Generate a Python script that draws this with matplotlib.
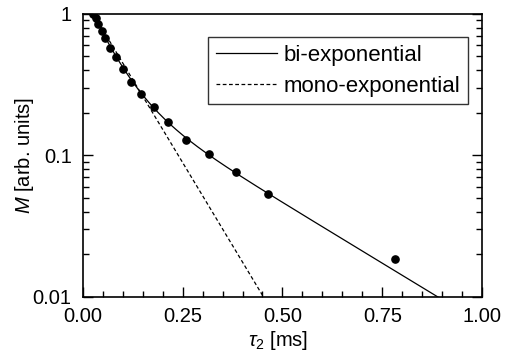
import numpy as np
import matplotlib
matplotlib.use("Agg")
import matplotlib.pyplot as plt
from matplotlib.ticker import FixedLocator, NullFormatter, LogLocator

plt.rcParams['font.family'] = ['Liberation Sans', 'DejaVu Sans']
plt.rcParams['mathtext.fontset'] = 'custom'
plt.rcParams['mathtext.rm'] = 'Liberation Sans'
plt.rcParams['mathtext.it'] = 'Liberation Sans:italic'

# measured data
tau2 = [0.026, 0.033, 0.038, 0.047, 0.055, 0.068, 0.083, 0.0995, 0.1195,
        0.145, 0.178, 0.214, 0.258, 0.316, 0.383, 0.464, 0.783]
M = [1.0, 0.932, 0.850, 0.758, 0.673, 0.578, 0.494, 0.407, 0.332,
     0.271, 0.221, 0.171, 0.129, 0.1025, 0.076, 0.0535, 0.0185]

# fit parameters
bi_A1, bi_k1 = 0.70, 7.5       # fast component (log10 decay per ms)
bi_A2, bi_k2 = 0.334, 1.714    # slow component
bi_x0 = 0.026
mono_k = 4.69
mono_x0 = 0.026

fig = plt.figure(figsize=(5.08, 3.56), dpi=100)
ax = fig.add_axes([0.163, 0.166, 0.786, 0.795])

xf = np.linspace(bi_x0, 1.0, 400)
bi = bi_A1 * 10 ** (-bi_k1 * (xf - bi_x0)) + bi_A2 * 10 ** (-bi_k2 * xf)
mono = 10 ** (-mono_k * (xf - mono_x0))

ax.plot(xf, bi, color='black', lw=0.9, label='bi-exponential')
ax.plot(xf, mono, color='black', lw=0.9, ls=(0, (3, 2)), label='mono-exponential')
ax.plot(tau2, M, 'o', color='black', ms=5.2, zorder=3)

ax.set_yscale('log')
ax.set_xlim(0, 1.0)
ax.set_ylim(0.01, 1)
ax.set_xticks([0, 0.25, 0.5, 0.75, 1.0])
ax.set_xticklabels(['0.00', '0.25', '0.50', '0.75', '1.00'])
ax.xaxis.set_minor_locator(FixedLocator(np.arange(0.05, 1.0, 0.05)))
ax.set_yticks([0.01, 0.1, 1])
ax.set_yticklabels(['0.01', '0.1', '1'])
ax.yaxis.set_minor_locator(LogLocator(base=10, subs=np.arange(2, 10)))
ax.yaxis.set_minor_formatter(NullFormatter())

ax.tick_params(which='both', direction='in', top=False, right=True,
               labelsize=14.5, width=1.0)
ax.tick_params(which='major', length=7)
ax.tick_params(which='minor', length=4)
ax.tick_params(axis='x', which='major', pad=7)
ax.tick_params(axis='y', which='major', pad=8)
for s in ax.spines.values():
    s.set_linewidth(1.2)

ax.set_xlabel(r'$\tau_2$ [ms]', fontsize=14.5)
ax.set_ylabel(r'$M$ [arb. units]', fontsize=14.5)
ax.xaxis.set_label_coords(0.49, -0.112)
ax.yaxis.set_label_coords(-0.118, 0.5)

leg = ax.legend(loc='upper right', bbox_to_anchor=(0.965, 0.919), fontsize=16,
                frameon=True, fancybox=False, edgecolor='black',
                handlelength=2.75, handletextpad=0.3, borderpad=0.35,
                labelspacing=0.45, borderaxespad=0)
leg.get_frame().set_linewidth(1.0)

fig.savefig('out.png', dpi=100)
